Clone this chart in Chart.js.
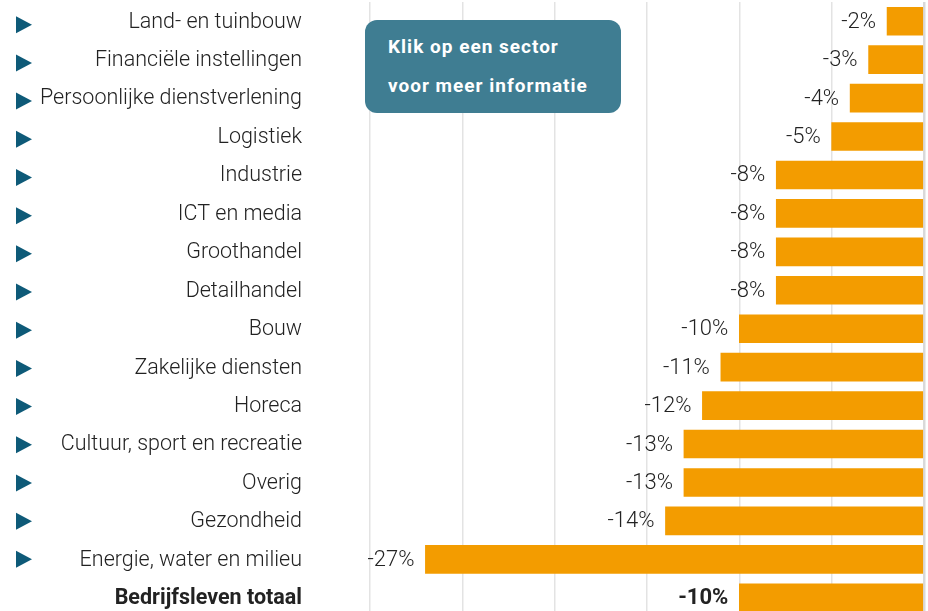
<!DOCTYPE html>
<html>
<head>
<meta charset="utf-8">
<script src="https://cdn.jsdelivr.net/npm/chart.js@4.4.1/dist/chart.umd.min.js"></script>
<style>
    html, body { margin: 0; padding: 0; background: #fff; overflow: hidden; }
    #wrap { position: relative; width: 928px; height: 618px; }
    #info {
        position: absolute; left: 365px; top: 20px; width: 256px; height: 93px;
        box-sizing: border-box; padding: 7px 0 0 23px;
        background: #3f7d92; border-radius: 12px; color: #fff;
        font-family: Roboto, sans-serif; font-weight: 700; font-size: 19px; line-height: 39px;
        letter-spacing: 1px;
    }
</style>
</head>
<body>
<div id="wrap">
    <canvas id="chart" width="928" height="618"></canvas>
    <div id="info">Klik op een sector<br>voor meer informatie</div>
</div>
<script>
// sectors and change in %
const sectors = [
    'Land- en tuinbouw',
    'Financiële instellingen',
    'Persoonlijke dienstverlening',
    'Logistiek',
    'Industrie',
    'ICT en media',
    'Groothandel',
    'Detailhandel',
    'Bouw',
    'Zakelijke diensten',
    'Horeca',
    'Cultuur, sport en recreatie',
    'Overig',
    'Gezondheid',
    'Energie, water en milieu',
    'Bedrijfsleven totaal'
];
const changes = [-2, -3, -4, -5, -8, -8, -8, -8, -10, -11, -12, -13, -13, -14, -27, -10];
const totalLabel = 'Bedrijfsleven totaal';

// value labels left of the bar ends
const valueLabels = {
    id: 'valueLabels',
    afterDatasetsDraw(chart) {
        let ctx = chart.ctx;
        let meta = chart.getDatasetMeta(0);
        ctx.save();
        ctx.textAlign = 'right';
        ctx.textBaseline = 'middle';
        ctx.fillStyle = '#222';
        meta.data.forEach((bar, i) => {
            let bold = sectors[i] === totalLabel;
            ctx.font = (bold ? '700 ' : '300 ') + '22px Roboto';
            ctx.fillText(changes[i] + '%', bar.x - 11, bar.y + 1);
        });
        ctx.restore();
    }
};

// sector names with the little arrows in front
const sectorLabels = {
    id: 'sectorLabels',
    afterDraw(chart) {
        let ctx = chart.ctx;
        let yScale = chart.scales.y;
        ctx.save();
        ctx.textBaseline = 'middle';
        sectors.forEach((s, i) => {
            let y = yScale.getPixelForValue(i);
            let bold = s === totalLabel;
            ctx.fillStyle = '#222';
            ctx.textAlign = 'right';
            ctx.font = (bold ? '700 ' : '300 ') + '21.5px Roboto';
            ctx.fillText(yScale.getLabelForValue(i), 302, y + 1);
            if (bold) return;
            // arrows sit a bit lower at the top, drifting to centre further down
            let ay = y + 3.5 - 0.25 * i;
            ctx.fillStyle = '#0e5a78';
            ctx.beginPath();
            ctx.moveTo(16, ay - 8.5);
            ctx.lineTo(32, ay);
            ctx.lineTo(16, ay + 8.5);
            ctx.closePath();
            ctx.fill();
        });
        ctx.restore();
    }
};

new Chart(document.getElementById('chart'), {
    type: 'bar',
    data: {
        labels: sectors,
        datasets: [{
            data: changes,
            backgroundColor: '#f39c00',
            borderWidth: 0,
            barThickness: 28
        }]
    },
    options: {
        indexAxis: 'y',
        responsive: false,
        animation: false,
        layout: { padding: { top: 2, right: 4, bottom: 1, left: 0 } },
        plugins: {
            legend: { display: false },
            tooltip: { enabled: false }
        },
        scales: {
            x: {
                min: -30,
                max: 0,
                ticks: { display: false, stepSize: 5 },
                grid: {
                    color: (c) => c.tick && c.tick.value === 0 ? '#d9d9d9' : '#e3e3e3',
                    lineWidth: (c) => c.tick && c.tick.value === 0 ? 2.5 : 1.5,
                    drawTicks: false
                },
                border: { display: false }
            },
            y: {
                afterFit: (scale) => { scale.width = 370; },
                grid: { display: false, drawTicks: false },
                border: { display: false },
                ticks: { display: false }
            }
        }
    },
    plugins: [valueLabels, sectorLabels]
});
</script>
</body>
</html>
